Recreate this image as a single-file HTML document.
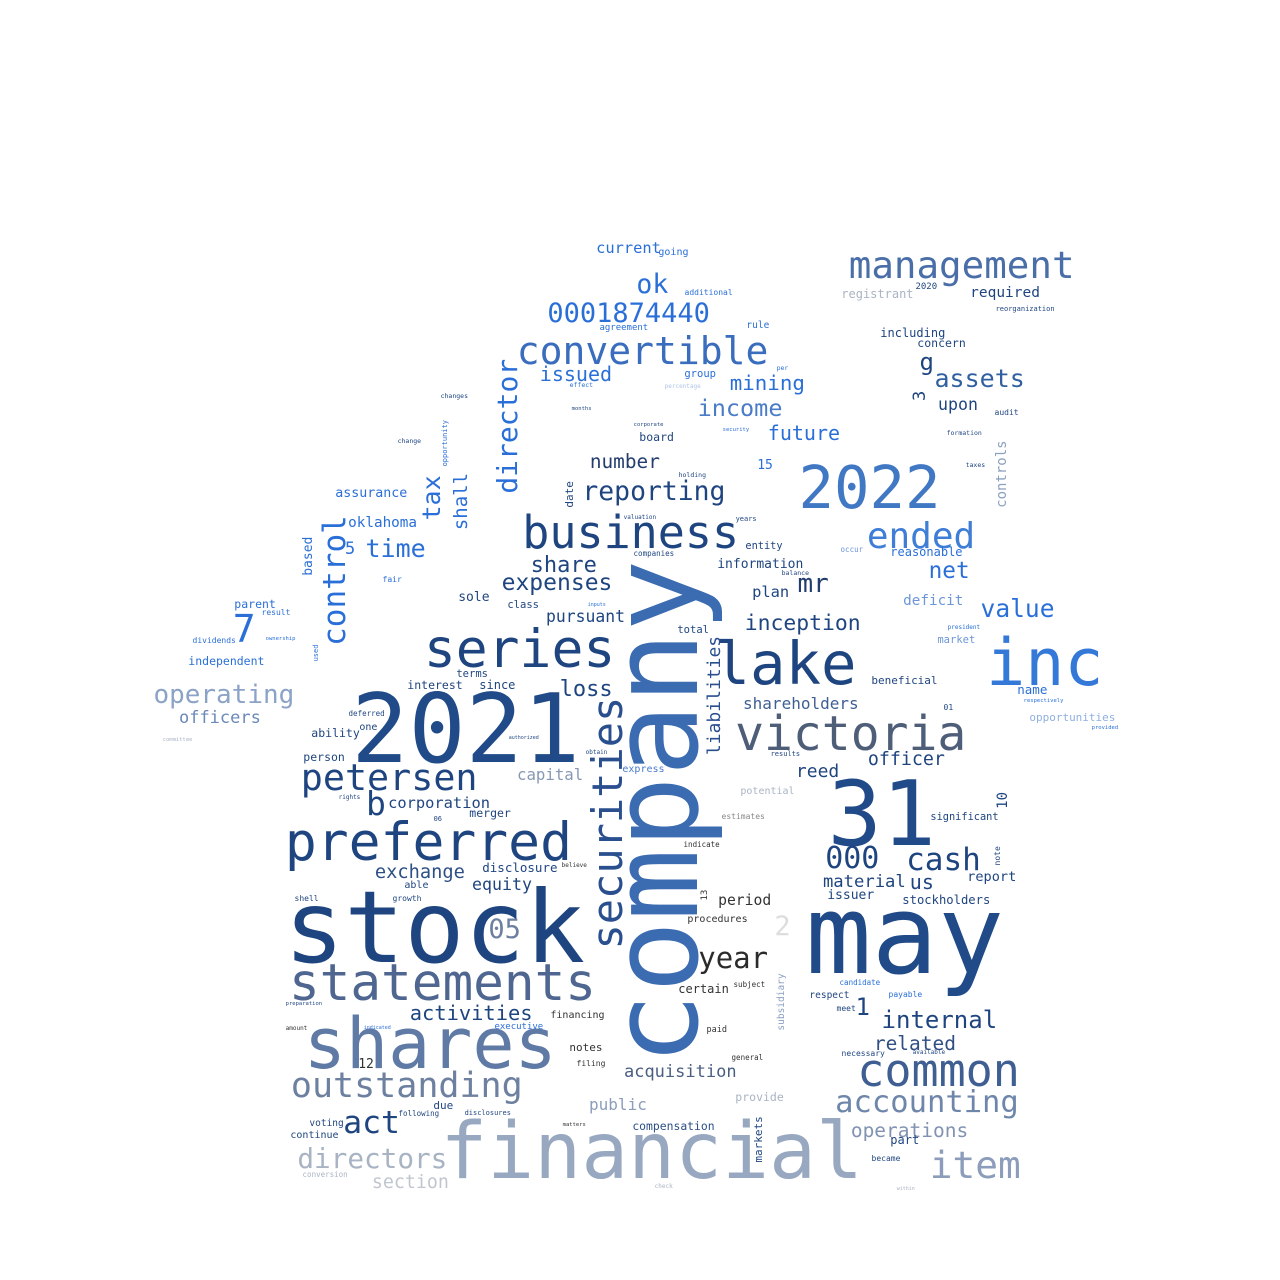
<!DOCTYPE html>
<html><head><meta charset="utf-8"><style>
html,body{margin:0;padding:0;background:#fff;}
svg{display:block;}
text{font-family:"DejaVu Sans Mono","Liberation Mono",monospace;}
</style></head>
<body>
<svg id="cloud" width="1280" height="1280" viewBox="0 0 1280 1280" xmlns="http://www.w3.org/2000/svg">
<rect width="1280" height="1280" fill="#fff"/>
</svg>
<script>
// [word, x(left ink / baseline for rotated), y(baseline / bottom for rotated), size, color, rotated]
var words = [
["company",697,1058,120,"#3b6bb0",1],
["stock",290,962,100,"#1f4580",0],
["may",812,973,110,"#204a88",0],
["31",833,845,90,"#204a88",0],
["2021",357,762,95,"#204a88",0],
["2022",802,508,59,"#4178c4",0],
["financial",445,1178,78,"#98a8c0",0],
["shares",308,1068,70,"#5f7aa5",0],
["statements",292,1000,51,"#4f6690",0],
["preferred",288,860,53,"#1f4580",0],
["series",427,667,53,"#1f4580",0],
["business",525,548,45,"#1f4580",0],
["lake",718,684,59,"#1f4580",0],
["inc",990,685,65,"#3478d8",0],
["victoria",738,750,48,"#4f5e78",0],
["management",851,278,37.5,"#4a6ea8",0],
["convertible",519,364,38,"#3a6dbd",0],
["common",860,1086,45,"#3f5f93",0],
["accounting",837,1112,30.5,"#6f86ab",0],
["outstanding",293,1097,35,"#6d80a0",0],
["securities",622,947,42,"#2a4f8f",1],
["petersen",303,790,36.7,"#1f4580",0],
["item",932,1178,37.8,"#8b9dba",0],
["directors",299,1168,27.7,"#a8b3c4",0],
["director",517,492,28,"#2a6fd8",1],
["control",345,644,31,"#2a6fd8",1],
["liabilities",720,754,18,"#2a4f8f",1],
["7",235,642,38,"#2a6fd8",0],
["ended",869,548,36,"#3f7ed6",0],
["000",827,868,30,"#1f4580",0],
["cash",908,870,31,"#1f4580",0],
["year",700,968,29,"#2b2b2b",0],
["internal",883,1028,24,"#1f4580",0],
["related",875,1050,19.5,"#2f4f85",0],
["operating",155,703,26,"#8ca3c8",0],
["officers",180,723,17,"#6a88b8",0],
["act",345,1133,31.5,"#1f4580",0],
["operations",852,1137,19.5,"#8193b0",0],
["shareholders",744,709,16,"#3f5f93",0],
["officer",869,765,18.3,"#1f4580",0],
["inception",746,630,21.4,"#1f4580",0],
["mr",799,592,26,"#223d6e",0],
["reporting",584,500,26.4,"#1f4580",0],
["number",591,468,19.4,"#223d6e",0],
["income",699,416,23.5,"#4a7cc8",0],
["mining",731,390,20.8,"#2a6fd8",0],
["assets",936,387,25,"#3060a0",0],
["0001874440",549,322,27,"#2a6fd8",0],
["ok",638,293,26.5,"#2a6fd8",0],
["issued",541,381,20,"#2a6fd8",0],
["future",769,440,20,"#2a6fd8",0],
["net",930,578,22.7,"#2a6fd8",0],
["value",982,617,24.6,"#2a6fd8",0],
["share",532,572,22,"#1f4580",0],
["expenses",503,590,23,"#1f4580",0],
["loss",561,696,22,"#1f4580",0],
["time",367,557,25,"#2a6fd8",0],
["tax",440,519,25,"#2a6fd8",1],
["shall",467,529,19,"#2a6fd8",1],
["oklahoma",349,527,14.3,"#2a6fd8",0],
["assurance",336,497,13.3,"#2a6fd8",0],
["pursuant",547,622,16.4,"#1f4580",0],
["corporation",389,808,15.4,"#1f4580",0],
["b",368,815,33,"#1f4580",0],
["exchange",376,878,18.7,"#2d4f85",0],
["equity",473,890,16.6,"#1f4580",0],
["disclosure",483,872,12.5,"#1f4580",0],
["activities",411,1020,20.4,"#1f4580",0],
["capital",518,780,15.7,"#8898b4",0],
["reed",797,777,18,"#1f4580",0],
["acquisition",625,1077,17,"#4a5e80",0],
["public",590,1110,16,"#8b9dba",0],
["compensation",633,1130,11.4,"#2d4f85",0],
["provide",736,1101,11.5,"#aab4c4",0],
["section",373,1188,18.3,"#c0c6d0",0],
["period",719,905,14.7,"#333333",0],
["material",824,887,17.2,"#1f4580",0],
["us",911,889,20,"#1f4580",0],
["report",968,881,13.6,"#1f4580",0],
["stockholders",903,904,12.2,"#1f4580",0],
["issuer",828,899,13,"#1f4580",0],
["significant",931,820,10.3,"#1f4580",0],
["10",1007,808,14,"#1f4580",1],
["05",490,938,27,"#6d80a0",0],
["2",776,935,27,"#dddddd",0],
["1",857,1015,24,"#1f4580",0],
["3",925,400,17,"#1f4580",1],
["g",921,370,24,"#1f4580",0],
["upon",939,410,16.6,"#1f4580",0],
["required",971,297,14.5,"#1f4580",0],
["registrant",842,298,12,"#aab4c4",0],
["2020",916,289,9,"#1f4580",0],
["including",881,337,12,"#1f4580",0],
["concern",918,347,11.5,"#1f4580",0],
["current",597,253,15.4,"#2a6fd8",0],
["going",659,255,10,"#2a6fd8",0],
["controls",1006,507,14,"#8ca0c0",1],
["beneficial",872,684,11,"#1f4580",0],
["name",1018,694,12.5,"#2a6fd8",0],
["opportunities",1030,721,11,"#8fb0e0",0],
["deficit",904,605,14.3,"#6d96d8",0],
["reasonable",891,556,12,"#2a6fd8",0],
["market",938,643,10.5,"#6d96d8",0],
["plan",753,597,15.4,"#1f4580",0],
["information",718,568,13,"#1f4580",0],
["entity",746,549,10.3,"#1f4580",0],
["total",678,633,10.5,"#1f4580",0],
["15",758,469,13,"#2a6fd8",0],
["group",685,377,10.5,"#2a6fd8",0],
["rule",747,328,9.5,"#2a6fd8",0],
["additional",685,295,8,"#2a6fd8",0],
["agreement",600,330,9,"#2a6fd8",0],
["board",640,441,11.5,"#1f4580",0],
["date",573,507,11,"#1f4580",1],
["sole",459,601,13,"#1f4580",0],
["class",508,608,10.5,"#1f4580",0],
["parent",235,608,11.5,"#2a6fd8",0],
["result",262,615,8,"#2a6fd8",0],
["independent",189,665,11.5,"#2a6fd8",0],
["dividends",193,643,8,"#2a6fd8",0],
["based",312,575,13,"#2a6fd8",1],
["5",346,554,17,"#2a6fd8",0],
["interest",408,689,11.5,"#1f4580",0],
["since",480,689,12,"#1f4580",0],
["terms",457,677,10.5,"#1f4580",0],
["ability",312,737,11.5,"#1f4580",0],
["one",360,730,10,"#1f4580",0],
["deferred",349,716,7.5,"#1f4580",0],
["person",304,761,11.5,"#1f4580",0],
["merger",470,817,11.5,"#1f4580",0],
["able",405,888,10,"#1f4580",0],
["growth",393,901,8,"#1f4580",0],
["shell",295,901,8,"#1f4580",0],
["financing",551,1018,10,"#333333",0],
["executive",495,1029,9,"#2a6fd8",0],
["notes",570,1051,11,"#333333",0],
["filing",577,1066,8,"#333333",0],
["12",359,1068,13,"#333333",0],
["due",434,1109,11,"#1f4580",0],
["voting",310,1126,9.5,"#1f4580",0],
["continue",291,1138,10,"#1f4580",0],
["following",399,1116,7.5,"#1f4580",0],
["disclosures",465,1115,7,"#1f4580",0],
["conversion",303,1177,7.5,"#aab4c4",0],
["express",623,772,10,"#4a7cc8",0],
["potential",741,794,10,"#aab4c4",0],
["estimates",722,819,8,"#888888",0],
["indicate",684,847,7.5,"#333333",0],
["procedures",688,922,10,"#333333",0],
["certain",679,993,12,"#333333",0],
["subject",734,987,7.5,"#333333",0],
["paid",707,1032,8.5,"#333333",0],
["general",732,1060,7.5,"#333333",0],
["subsidiary",784,1030,9.5,"#8ca0c0",1],
["markets",762,1162,11,"#1f4580",1],
["13",707,900,9,"#333333",1],
["candidate",840,985,7.5,"#2a6fd8",0],
["respect",810,998,9.5,"#1f4580",0],
["meet",837,1011,8,"#1f4580",0],
["payable",889,997,8,"#2a6fd8",0],
["necessary",842,1056,8,"#1f4580",0],
["available",913,1054,6,"#1f4580",0],
["part",891,1144,12,"#1f4580",0],
["became",872,1161,8,"#1f4580",0],
["results",771,756,7,"#1f4580",0],
["01",944,710,8,"#1f4580",0],
["note",1000,865,8,"#1f4580",1],
["reorganization",996,311,7,"#1f4580",0],
["audit",995,415,8,"#1f4580",0],
["formation",947,435,6.5,"#1f4580",0],
["taxes",966,467,6.5,"#1f4580",0],
["upon",0,0,0,"#fff",0],
["changes",441,398,6.5,"#1f4580",0],
["change",398,443,6.5,"#1f4580",0],
["opportunity",447,466,7,"#2a6fd8",1],
["months",572,410,5.5,"#1f4580",0],
["effect",570,387,6.5,"#2a6fd8",0],
["corporate",634,426,5.5,"#1f4580",0],
["security",723,431,5.5,"#2a6fd8",0],
["holding",679,477,6.5,"#1f4580",0],
["valuation",624,519,6,"#1f4580",0],
["companies",634,556,7.5,"#1f4580",0],
["years",736,521,7,"#1f4580",0],
["balance",782,575,6.5,"#1f4580",0],
["fair",383,582,8,"#2a6fd8",0],
["inputs",588,606,5,"#2a6fd8",0],
["ownership",266,640,5.5,"#2a6fd8",0],
["used",318,661,7,"#2a6fd8",1],
["occur",841,552,7.5,"#6d96d8",0],
["percentage",665,388,6,"#b0c4e8",0],
["per",777,370,6.5,"#2a6fd8",0],
["president",948,629,6,"#2a6fd8",0],
["respectively",1024,702,5.5,"#2a6fd8",0],
["provided",1092,729,5.5,"#2a6fd8",0],
["committee",163,741,5.5,"#aab4c4",0],
["obtain",586,754,6,"#1f4580",0],
["authorized",509,739,5,"#1f4580",0],
["rights",339,799,6,"#1f4580",0],
["06",434,821,7,"#1f4580",0],
["believe",562,867,6,"#333333",0],
["preparation",286,1005,5.5,"#1f4580",0],
["amount",286,1030,6,"#333333",0],
["indicated",364,1029,5,"#2a6fd8",0],
["matters",563,1126,5.5,"#333333",0],
["check",655,1188,6,"#aab4c4",0],
["within",897,1190,5,"#aab4c4",0]
];

var svg = document.getElementById('cloud');
var NS = 'http://www.w3.org/2000/svg';
for (var i = 0; i < words.length; i++) {
  var w = words[i];
  if (w[3] <= 0) continue;
  var t = document.createElementNS(NS, 'text');
  var bear = 0.06 * w[3];
  t.setAttribute('font-size', w[3]);
  t.setAttribute('fill', w[4]);
  if (w[5]) {
    t.setAttribute('transform', 'translate(' + w[1] + ',' + (w[2] + bear) + ') rotate(-90)');
    t.setAttribute('x', 0);
    t.setAttribute('y', 0);
  } else {
    t.setAttribute('x', w[1] - bear);
    t.setAttribute('y', w[2]);
  }
  t.textContent = w[0];
  
  
  svg.appendChild(t);
}
</script>
</body></html>
